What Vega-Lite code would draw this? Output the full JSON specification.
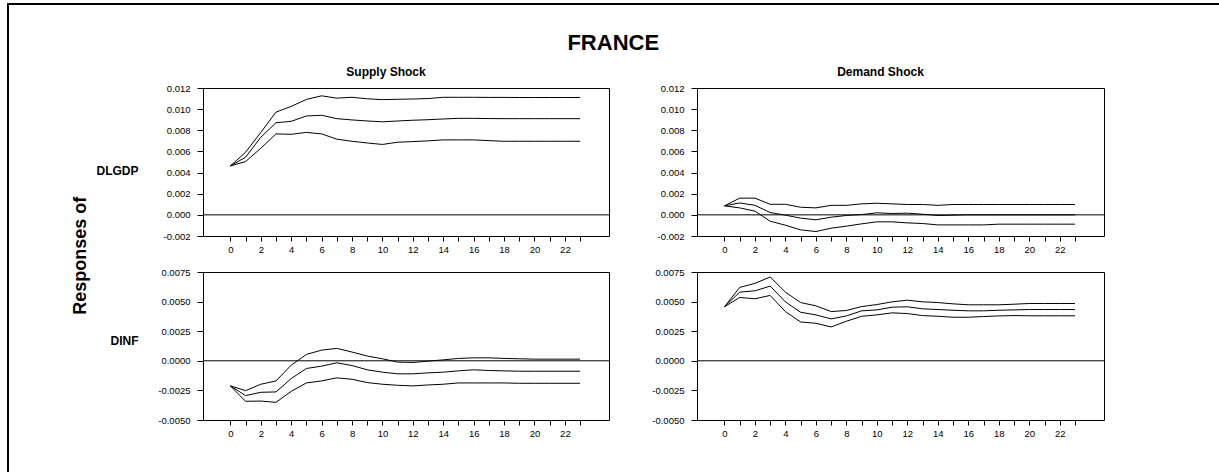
{
  "$schema": "https://vega.github.io/schema/vega-lite/v6.json",
  "padding": {"left": 7, "top": 3, "right": 0, "bottom": 0},
  "background": "white",
  "config": {
    "font": "Liberation Sans",
    "view": {"stroke": null},
    "axis": {"labelFont": "Liberation Sans", "labelFontSize": 9.5, "labelColor": "black", "tickColor": "black", "tickWidth": 1, "domain": false, "grid": false, "titleColor": "black", "titleFont": "Liberation Sans", "labelOverlap": false, "tickCount": 40},
    "title": {"color": "black", "font": "Liberation Sans", "fontWeight": "bold"},
    "locale": {"number": {"decimal": ".", "thousands": ",", "grouping": [3], "currency": ["$", ""], "minus": "-"}}
  },
  "datasets": {
    "supply_dlgdp": [
      {"t": 0, "lower": 0.00463, "response": 0.00463, "upper": 0.00463},
      {"t": 1, "lower": 0.00504, "response": 0.00545, "upper": 0.00592},
      {"t": 2, "lower": 0.0063, "response": 0.00734, "upper": 0.0078},
      {"t": 3, "lower": 0.00766, "response": 0.00871, "upper": 0.00972},
      {"t": 4, "lower": 0.00762, "response": 0.00885, "upper": 0.01026},
      {"t": 5, "lower": 0.0078, "response": 0.00935, "upper": 0.01092},
      {"t": 6, "lower": 0.00766, "response": 0.00942, "upper": 0.01126},
      {"t": 7, "lower": 0.00716, "response": 0.0091, "upper": 0.01104},
      {"t": 8, "lower": 0.00696, "response": 0.00898, "upper": 0.01112},
      {"t": 9, "lower": 0.0068, "response": 0.00888, "upper": 0.01098},
      {"t": 10, "lower": 0.00666, "response": 0.0088, "upper": 0.0109},
      {"t": 11, "lower": 0.00687, "response": 0.00888, "upper": 0.01093},
      {"t": 12, "lower": 0.00693, "response": 0.00895, "upper": 0.01096},
      {"t": 13, "lower": 0.007, "response": 0.009, "upper": 0.011},
      {"t": 14, "lower": 0.00709, "response": 0.00907, "upper": 0.01112},
      {"t": 15, "lower": 0.00709, "response": 0.00913, "upper": 0.01112},
      {"t": 16, "lower": 0.00709, "response": 0.00913, "upper": 0.01112},
      {"t": 17, "lower": 0.00702, "response": 0.00911, "upper": 0.01111},
      {"t": 18, "lower": 0.00696, "response": 0.0091, "upper": 0.01111},
      {"t": 19, "lower": 0.00696, "response": 0.0091, "upper": 0.0111},
      {"t": 20, "lower": 0.00696, "response": 0.0091, "upper": 0.0111},
      {"t": 21, "lower": 0.00696, "response": 0.0091, "upper": 0.0111},
      {"t": 22, "lower": 0.00696, "response": 0.0091, "upper": 0.0111},
      {"t": 23, "lower": 0.00696, "response": 0.0091, "upper": 0.0111}
    ],
    "demand_dlgdp": [
      {"t": 0, "lower": 0.00085, "response": 0.00085, "upper": 0.00085},
      {"t": 1, "lower": 0.00066, "response": 0.00113, "upper": 0.00158},
      {"t": 2, "lower": 0.00035, "response": 0.0009, "upper": 0.00158},
      {"t": 3, "lower": -0.0006, "response": 0.00022, "upper": 0.001},
      {"t": 4, "lower": -0.00098, "response": -0.00003, "upper": 0.001},
      {"t": 5, "lower": -0.00142, "response": -0.00031, "upper": 0.00072},
      {"t": 6, "lower": -0.00158, "response": -0.00047, "upper": 0.00066},
      {"t": 7, "lower": -0.00126, "response": -0.00022, "upper": 0.0009},
      {"t": 8, "lower": -0.00107, "response": -0.00006, "upper": 0.0009},
      {"t": 9, "lower": -0.00085, "response": 0.00003, "upper": 0.00104},
      {"t": 10, "lower": -0.00066, "response": 0.00019, "upper": 0.0011},
      {"t": 11, "lower": -0.00066, "response": 0.00013, "upper": 0.00104},
      {"t": 12, "lower": -0.00076, "response": 0.00016, "upper": 0.00098},
      {"t": 13, "lower": -0.00082, "response": 0.00006, "upper": 0.00098},
      {"t": 14, "lower": -0.00095, "response": -0.00006, "upper": 0.0009},
      {"t": 15, "lower": -0.00095, "response": -0.00003, "upper": 0.00098},
      {"t": 16, "lower": -0.00095, "response": 0.0, "upper": 0.00098},
      {"t": 17, "lower": -0.00095, "response": 0.0, "upper": 0.00098},
      {"t": 18, "lower": -0.00088, "response": 0.0, "upper": 0.00098},
      {"t": 19, "lower": -0.00088, "response": 0.0, "upper": 0.00098},
      {"t": 20, "lower": -0.00088, "response": 0.0, "upper": 0.00098},
      {"t": 21, "lower": -0.00088, "response": 0.0, "upper": 0.00098},
      {"t": 22, "lower": -0.00088, "response": 0.0, "upper": 0.00098},
      {"t": 23, "lower": -0.00088, "response": 0.0, "upper": 0.00098}
    ],
    "supply_dinf": [
      {"t": 0, "lower": -0.00212, "response": -0.00212, "upper": -0.00212},
      {"t": 1, "lower": -0.00342, "response": -0.00294, "upper": -0.00252},
      {"t": 2, "lower": -0.0034, "response": -0.00266, "upper": -0.00198},
      {"t": 3, "lower": -0.00351, "response": -0.00263, "upper": -0.0017},
      {"t": 4, "lower": -0.00258, "response": -0.0015, "upper": -0.00037},
      {"t": 5, "lower": -0.00187, "response": -0.00065, "upper": 0.00054},
      {"t": 6, "lower": -0.0017, "response": -0.00045, "upper": 0.0009},
      {"t": 7, "lower": -0.00144, "response": -0.00017, "upper": 0.00105},
      {"t": 8, "lower": -0.00156, "response": -0.0004, "upper": 0.00074},
      {"t": 9, "lower": -0.00184, "response": -0.00076, "upper": 0.0004},
      {"t": 10, "lower": -0.00198, "response": -0.00096, "upper": 0.00017},
      {"t": 11, "lower": -0.00207, "response": -0.0011, "upper": -0.00011},
      {"t": 12, "lower": -0.00212, "response": -0.0011, "upper": -0.00014},
      {"t": 13, "lower": -0.00204, "response": -0.00102, "upper": -0.00003},
      {"t": 14, "lower": -0.00198, "response": -0.00096, "upper": 0.00008},
      {"t": 15, "lower": -0.00187, "response": -0.00085, "upper": 0.0002},
      {"t": 16, "lower": -0.00187, "response": -0.00076, "upper": 0.00025},
      {"t": 17, "lower": -0.00187, "response": -0.00082, "upper": 0.00025},
      {"t": 18, "lower": -0.00187, "response": -0.00085, "upper": 0.0002},
      {"t": 19, "lower": -0.0019, "response": -0.00088, "upper": 0.00017},
      {"t": 20, "lower": -0.0019, "response": -0.00088, "upper": 0.00014},
      {"t": 21, "lower": -0.0019, "response": -0.00088, "upper": 0.00014},
      {"t": 22, "lower": -0.0019, "response": -0.00088, "upper": 0.00014},
      {"t": 23, "lower": -0.0019, "response": -0.00088, "upper": 0.00014}
    ],
    "demand_dinf": [
      {"t": 0, "lower": 0.00456, "response": 0.00456, "upper": 0.00456},
      {"t": 1, "lower": 0.00535, "response": 0.0058, "upper": 0.0062},
      {"t": 2, "lower": 0.00524, "response": 0.00591, "upper": 0.00654},
      {"t": 3, "lower": 0.00552, "response": 0.00631, "upper": 0.00708},
      {"t": 4, "lower": 0.00416, "response": 0.00498, "upper": 0.0058},
      {"t": 5, "lower": 0.00328, "response": 0.0041, "upper": 0.00492},
      {"t": 6, "lower": 0.00317, "response": 0.00388, "upper": 0.00464},
      {"t": 7, "lower": 0.00286, "response": 0.00354, "upper": 0.00416},
      {"t": 8, "lower": 0.00334, "response": 0.00379, "upper": 0.00425},
      {"t": 9, "lower": 0.00376, "response": 0.00422, "upper": 0.00458},
      {"t": 10, "lower": 0.00388, "response": 0.0043, "upper": 0.00475},
      {"t": 11, "lower": 0.00405, "response": 0.00453, "upper": 0.00498},
      {"t": 12, "lower": 0.00399, "response": 0.00456, "upper": 0.00512},
      {"t": 13, "lower": 0.00382, "response": 0.00439, "upper": 0.00498},
      {"t": 14, "lower": 0.00376, "response": 0.00433, "upper": 0.00492},
      {"t": 15, "lower": 0.00368, "response": 0.00427, "upper": 0.00481},
      {"t": 16, "lower": 0.00368, "response": 0.00422, "upper": 0.00473},
      {"t": 17, "lower": 0.00374, "response": 0.00422, "upper": 0.00473},
      {"t": 18, "lower": 0.00379, "response": 0.00427, "upper": 0.00473},
      {"t": 19, "lower": 0.00382, "response": 0.0043, "upper": 0.00478},
      {"t": 20, "lower": 0.0038, "response": 0.00433, "upper": 0.00484},
      {"t": 21, "lower": 0.0038, "response": 0.00433, "upper": 0.00484},
      {"t": 22, "lower": 0.0038, "response": 0.00433, "upper": 0.00484},
      {"t": 23, "lower": 0.0038, "response": 0.00433, "upper": 0.00484}
    ]
  },
  "spacing": 0,
  "hconcat": [
    {"width": 2, "height": 469, "view": {"fill": "black", "stroke": null}, "data": {"values": []}, "mark": "rule", "encoding": {}},
    {
      "spacing": 0,
      "vconcat": [
        {"width": 1210, "height": 2, "view": {"fill": "black", "stroke": null}, "data": {"values": []}, "mark": "rule", "encoding": {}},
        {"width": 1, "height": 26, "data": {"values": []}, "mark": "rule", "encoding": {}},
        {
          "spacing": 0,
          "hconcat": [
            {"width": 62, "height": 1, "data": {"values": []}, "mark": "rule", "encoding": {}},
            {
              "title": {"text": "FRANCE", "fontSize": 22, "fontWeight": "bold", "anchor": "middle", "offset": 11, "dx": 25},
              "vconcat": [
                {
                  "title": {"text": "Responses of", "orient": "left", "fontSize": 18, "fontWeight": "bold", "anchor": "middle", "offset": 6, "dx": -4},
                  "columns": 2,
                  "bounds": "flush",
                  "spacing": {"row": 36, "column": 88},
                  "concat": [
                    {
                      "width": 406, "height": 148,
                      "view": {"stroke": "black", "strokeWidth": 1},
                      "title": {"text": "Supply Shock", "fontSize": 12, "fontWeight": "bold", "anchor": "middle", "frame": "group", "offset": 4, "dx": -20},
                      "layer": [
                        {
                          "data": {"name": "supply_dlgdp"},
                          "transform": [{"fold": ["lower", "response", "upper"], "as": ["band", "value"]}],
                          "mark": {"type": "line", "color": "black", "strokeWidth": 1},
                          "encoding": {
                            "x": {"field": "t", "type": "quantitative", "scale": {"domain": [-1.8, 24.9], "nice": false, "zero": false}, "axis": {"title": null, "values": [0,1,2,3,4,5,6,7,8,9,10,11,12,13,14,15,16,17,18,19,20,21,22,23], "tickCount": 40, "format": "d", "labelExpr": "datum.value % 2 === 0 ? datum.label : ''", "tickSize": 5, "labelPadding": 3, "labelOverlap": false, "labelFlush": false}},
                            "y": {"field": "value", "type": "quantitative", "scale": {"domain": [-0.002, 0.012], "nice": false, "zero": false}, "axis": {"title": "DLGDP", "titleAngle": 0, "titleAlign": "right", "titleBaseline": "middle", "titleX": -65, "titleY": 82, "titleFontSize": 12, "titleFontWeight": "bold", "values": [-0.002, 0, 0.002, 0.004, 0.006, 0.008, 0.01, 0.012], "tickCount": 40, "format": ".3f", "tickSize": 6, "labelPadding": 7, "labelOverlap": false, "labelFlush": false}},
                            "detail": {"field": "band", "type": "nominal"}
                          }
                        },
                        {"data": {"values": [{}]}, "mark": {"type": "rule", "color": "black", "strokeWidth": 1}, "encoding": {"y": {"datum": 0, "type": "quantitative"}}}
                      ]
                    },
                    {
                      "width": 407, "height": 148,
                      "view": {"stroke": "black", "strokeWidth": 1},
                      "title": {"text": "Demand Shock", "fontSize": 12, "fontWeight": "bold", "anchor": "middle", "frame": "group", "offset": 4, "dx": -20},
                      "layer": [
                        {
                          "data": {"name": "demand_dlgdp"},
                          "transform": [{"fold": ["lower", "response", "upper"], "as": ["band", "value"]}],
                          "mark": {"type": "line", "color": "black", "strokeWidth": 1},
                          "encoding": {
                            "x": {"field": "t", "type": "quantitative", "scale": {"domain": [-1.8, 24.9], "nice": false, "zero": false}, "axis": {"title": null, "values": [0,1,2,3,4,5,6,7,8,9,10,11,12,13,14,15,16,17,18,19,20,21,22,23], "tickCount": 40, "format": "d", "labelExpr": "datum.value % 2 === 0 ? datum.label : ''", "tickSize": 5, "labelPadding": 3, "labelOverlap": false, "labelFlush": false}},
                            "y": {"field": "value", "type": "quantitative", "scale": {"domain": [-0.002, 0.012], "nice": false, "zero": false}, "axis": {"title": null, "values": [-0.002, 0, 0.002, 0.004, 0.006, 0.008, 0.01, 0.012], "tickCount": 40, "format": ".3f", "tickSize": 6, "labelPadding": 7, "labelOverlap": false, "labelFlush": false}},
                            "detail": {"field": "band", "type": "nominal"}
                          }
                        },
                        {"data": {"values": [{}]}, "mark": {"type": "rule", "color": "black", "strokeWidth": 1}, "encoding": {"y": {"datum": 0, "type": "quantitative"}}}
                      ]
                    },
                    {
                      "width": 406, "height": 148,
                      "view": {"stroke": "black", "strokeWidth": 1},
                      "layer": [
                        {
                          "data": {"name": "supply_dinf"},
                          "transform": [{"fold": ["lower", "response", "upper"], "as": ["band", "value"]}],
                          "mark": {"type": "line", "color": "black", "strokeWidth": 1},
                          "encoding": {
                            "x": {"field": "t", "type": "quantitative", "scale": {"domain": [-1.8, 24.9], "nice": false, "zero": false}, "axis": {"title": null, "values": [0,1,2,3,4,5,6,7,8,9,10,11,12,13,14,15,16,17,18,19,20,21,22,23], "tickCount": 40, "format": "d", "labelExpr": "datum.value % 2 === 0 ? datum.label : ''", "tickSize": 5, "labelPadding": 3, "labelOverlap": false, "labelFlush": false}},
                            "y": {"field": "value", "type": "quantitative", "scale": {"domain": [-0.005, 0.0075], "nice": false, "zero": false}, "axis": {"title": "DINF", "titleAngle": 0, "titleAlign": "right", "titleBaseline": "middle", "titleX": -65, "titleY": 68, "titleFontSize": 12, "titleFontWeight": "bold", "values": [-0.005, -0.0025, 0, 0.0025, 0.005, 0.0075], "tickCount": 40, "format": ".4f", "tickSize": 6, "labelPadding": 7, "labelOverlap": false, "labelFlush": false}},
                            "detail": {"field": "band", "type": "nominal"}
                          }
                        },
                        {"data": {"values": [{}]}, "mark": {"type": "rule", "color": "black", "strokeWidth": 1}, "encoding": {"y": {"datum": 0, "type": "quantitative"}}}
                      ]
                    },
                    {
                      "width": 407, "height": 148,
                      "view": {"stroke": "black", "strokeWidth": 1},
                      "layer": [
                        {
                          "data": {"name": "demand_dinf"},
                          "transform": [{"fold": ["lower", "response", "upper"], "as": ["band", "value"]}],
                          "mark": {"type": "line", "color": "black", "strokeWidth": 1},
                          "encoding": {
                            "x": {"field": "t", "type": "quantitative", "scale": {"domain": [-1.8, 24.9], "nice": false, "zero": false}, "axis": {"title": null, "values": [0,1,2,3,4,5,6,7,8,9,10,11,12,13,14,15,16,17,18,19,20,21,22,23], "tickCount": 40, "format": "d", "labelExpr": "datum.value % 2 === 0 ? datum.label : ''", "tickSize": 5, "labelPadding": 3, "labelOverlap": false, "labelFlush": false}},
                            "y": {"field": "value", "type": "quantitative", "scale": {"domain": [-0.005, 0.0075], "nice": false, "zero": false}, "axis": {"title": null, "values": [-0.005, -0.0025, 0, 0.0025, 0.005, 0.0075], "tickCount": 40, "format": ".4f", "tickSize": 6, "labelPadding": 7, "labelOverlap": false, "labelFlush": false}},
                            "detail": {"field": "band", "type": "nominal"}
                          }
                        },
                        {"data": {"values": [{}]}, "mark": {"type": "rule", "color": "black", "strokeWidth": 1}, "encoding": {"y": {"datum": 0, "type": "quantitative"}}}
                      ]
                    }
                  ]
                }
              ]
            }
          ]
        },
        {"width": 1, "height": 35, "data": {"values": []}, "mark": "rule", "encoding": {}},
        {"width": 1210, "height": 2, "view": {"fill": "black", "stroke": null}, "data": {"values": []}, "mark": "rule", "encoding": {}}
      ]
    }
  ]
}
